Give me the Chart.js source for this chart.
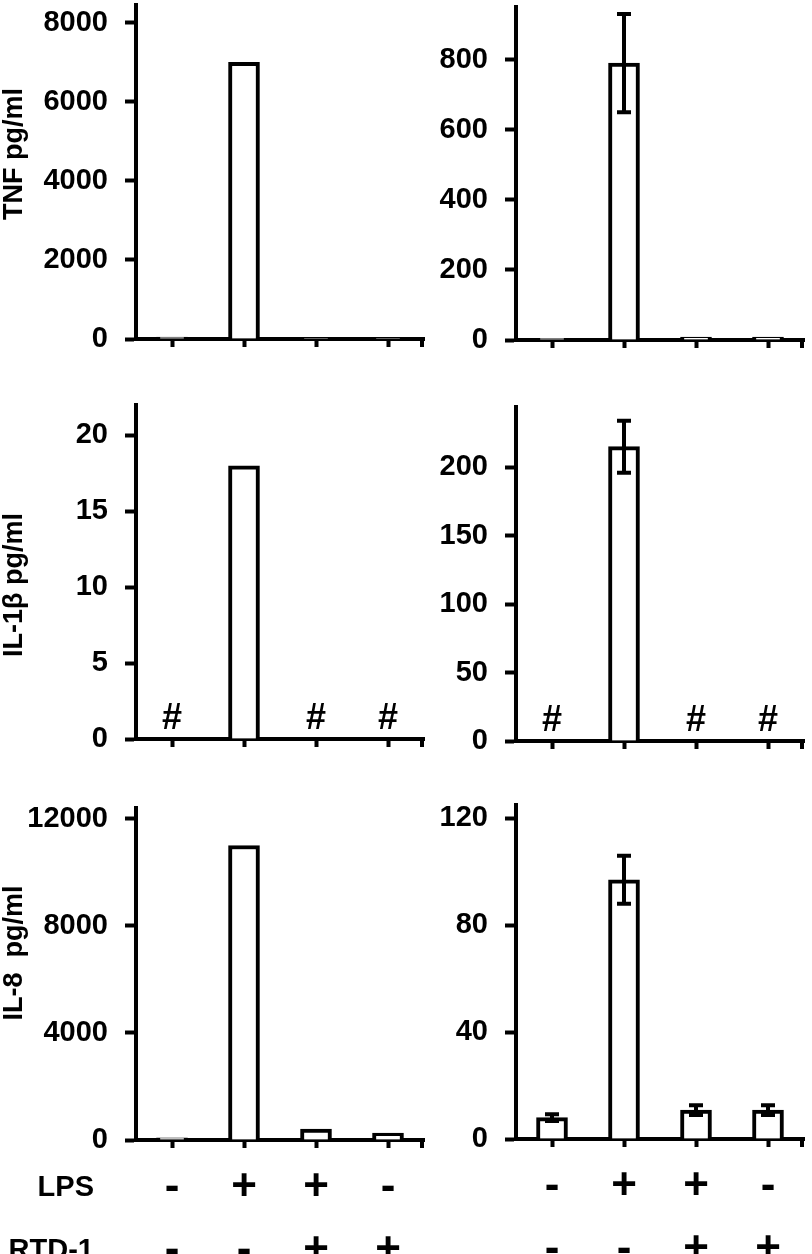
<!DOCTYPE html>
<html>
<head>
<meta charset="utf-8">
<script src="https://cdn.jsdelivr.net/npm/chart.js@4.4.1/dist/chart.umd.min.js"></script>
<style>
  html, body { margin: 0; padding: 0; background: #fff; overflow: hidden; }
  body { width: 812px; height: 1254px; position: relative; }
  canvas { position: absolute; }
</style>
</head>
<body>
<script>
// treatment groups
const CATEGORIES = ['g1', 'g2', 'g3', 'g4'];
const LPS = ['-', '+', '+', '-'];
const RTD1 = ['-', '-', '+', '+'];

// TNF
const TNF_LEFT = [50, 7000, 20, 20];
const TNF_LEFT_TICKS = [0, 2000, 4000, 6000, 8000];
const TNF_RIGHT = [5, 790, 8, 8];
const TNF_RIGHT_ERR = [0, 140, 0, 0];
const TNF_RIGHT_TICKS = [0, 200, 400, 600, 800];

// IL-1beta (# = below detection)
const IL1B_LEFT = [null, 18, null, null];
const IL1B_LEFT_TICKS = [0, 5, 10, 15, 20];
const IL1B_RIGHT = [null, 215, null, null];
const IL1B_RIGHT_ERR = [0, 19, 0, 0];
const IL1B_RIGHT_TICKS = [0, 50, 100, 150, 200];
const IL1B_MARKS = ['#', '', '#', '#'];

// IL-8
const IL8_LEFT = [80, 11000, 410, 260];
const IL8_LEFT_TICKS = [0, 4000, 8000, 12000];
const IL8_RIGHT = [8, 97, 10.8, 10.8];
const IL8_RIGHT_ERR = [1.3, 9, 1.8, 1.8];
const IL8_RIGHT_TICKS = [0, 40, 80, 120];

const FONT = '"Liberation Sans", Arial, sans-serif';
const LW = 4;
const PAD = 40;

const extrasPlugin = {
    id: 'extras',
    afterDatasetsDraw(chart, args, opts) {
        const { ctx, chartArea } = chart;
        const xs = chart.scales.x, ys = chart.scales.y;
        const vals = chart.data.datasets[0].data;
        ctx.save();
        ctx.strokeStyle = '#000';
        ctx.fillStyle = '#000';
        ctx.lineWidth = LW;
        // error bars
        (opts.err || []).forEach((e, i) => {
            if (!e || vals[i] == null) return;
            const cx = xs.getPixelForValue(i);
            const top = ys.getPixelForValue(vals[i] + e);
            const bot = ys.getPixelForValue(vals[i] - e);
            ctx.beginPath();
            ctx.moveTo(cx, top); ctx.lineTo(cx, bot);
            ctx.moveTo(cx - 7, top); ctx.lineTo(cx + 7, top);
            ctx.moveTo(cx - 7, bot); ctx.lineTo(cx + 7, bot);
            ctx.stroke();
        });
        // little stub at right end of x axis
        ctx.beginPath();
        ctx.moveTo(chartArea.right - 2, chartArea.bottom);
        ctx.lineTo(chartArea.right - 2, chartArea.bottom + 8);
        ctx.stroke();
        // below-detection marks
        if (opts.marks) {
            ctx.font = 'bold 36px ' + FONT;
            ctx.textAlign = 'center';
            ctx.textBaseline = 'alphabetic';
            opts.marks.forEach((m, i) => {
                if (m) ctx.fillText(m, xs.getPixelForValue(i), ys.getPixelForValue(0) - 10);
            });
        }
        // y axis title
        if (opts.title) {
            ctx.save();
            ctx.translate(15, opts.titleY);
            ctx.rotate(-Math.PI / 2);
            ctx.font = 'bold 27px ' + FONT;
            ctx.textAlign = 'center';
            ctx.textBaseline = 'middle';
            ctx.fillText(opts.title, 0, 0);
            ctx.restore();
        }
        // row labels for treatment table
        if (opts.rowLabels) {
            ctx.font = 'bold 29px ' + FONT;
            ctx.textAlign = 'right';
            ctx.textBaseline = 'middle';
            opts.rowLabels.forEach((r, k) => {
                ctx.fillText(r, 94, chartArea.bottom + 48 + k * 63);
            });
        }
        ctx.restore();
    }
};

function makePanel(p) {
    const cv = document.createElement('canvas');
    const xH = p.table ? 130 : PAD;
    const canvasTop = p.top - PAD;
    cv.width = 430;
    cv.height = PAD + (p.bottom - p.top) + xH;
    cv.style.left = p.left + 'px';
    cv.style.top = canvasTop + 'px';
    document.body.appendChild(cv);

    new Chart(cv, {
        type: 'bar',
        data: {
            labels: p.table ? CATEGORIES.map((c, i) => [LPS[i], RTD1[i]]) : CATEGORIES,
            datasets: [{
                data: p.values,
                backgroundColor: '#fff',
                borderColor: '#000',
                borderWidth: LW,
                barThickness: 31,
            }],
        },
        options: {
            responsive: false,
            animation: false,
            events: [],
            layout: { padding: { top: PAD, right: 6, left: 0, bottom: 0 } },
            plugins: {
                legend: { display: false },
                tooltip: { enabled: false },
                extras: {
                    err: p.err,
                    marks: p.marks,
                    title: p.title,
                    titleY: p.titleY - canvasTop,
                    rowLabels: p.rowLabels,
                },
            },
            scales: {
                x: {
                    grid: { drawOnChartArea: false, offset: false, tickLength: 8, tickWidth: LW, tickColor: '#000' },
                    border: { color: '#000', width: LW },
                    ticks: {
                        display: !!p.table,
                        color: '#000',
                        padding: 8,
                        maxRotation: 0,
                        autoSkip: false,
                        font: { family: FONT, size: 44, weight: 'bold', lineHeight: 63 / 44 },
                    },
                    afterFit: (s) => { s.height = xH; },
                },
                y: {
                    min: 0,
                    max: p.max,
                    grid: { drawOnChartArea: false, tickLength: 11, tickWidth: LW, tickColor: '#000' },
                    border: { color: '#000', width: LW },
                    ticks: {
                        color: '#000',
                        padding: 17,
                        font: { family: FONT, size: 29, weight: 'bold' },
                        callback: (v) => String(v),
                    },
                    afterBuildTicks: (s) => { s.ticks = p.ticks.map(v => ({ value: v })); },
                    afterFit: (s) => { s.width = 136; },
                },
            },
        },
        plugins: [extrasPlugin],
    });
}

const panels = [
    { left: 0, top: 5, bottom: 339, values: TNF_LEFT, ticks: TNF_LEFT_TICKS, max: 8450, title: 'TNF pg/ml', titleY: 154 },
    { left: 380, top: 7, bottom: 340, values: TNF_RIGHT, ticks: TNF_RIGHT_TICKS, max: 950, err: TNF_RIGHT_ERR },
    { left: 0, top: 405, bottom: 739, values: IL1B_LEFT, ticks: IL1B_LEFT_TICKS, max: 22, marks: IL1B_MARKS, title: 'IL-1\u03B2 pg/ml', titleY: 585 },
    { left: 380, top: 407, bottom: 741, values: IL1B_RIGHT, ticks: IL1B_RIGHT_TICKS, max: 244, err: IL1B_RIGHT_ERR, marks: IL1B_MARKS },
    { left: 0, top: 808, bottom: 1140, values: IL8_LEFT, ticks: IL8_LEFT_TICKS, max: 12400, title: 'IL-8  pg/ml', titleY: 953, table: true, rowLabels: ['LPS', 'RTD-1'] },
    { left: 380, top: 805, bottom: 1139, values: IL8_RIGHT, ticks: IL8_RIGHT_TICKS, max: 125, err: IL8_RIGHT_ERR, table: true },
];

panels.forEach(makePanel);
</script>
</body>
</html>
